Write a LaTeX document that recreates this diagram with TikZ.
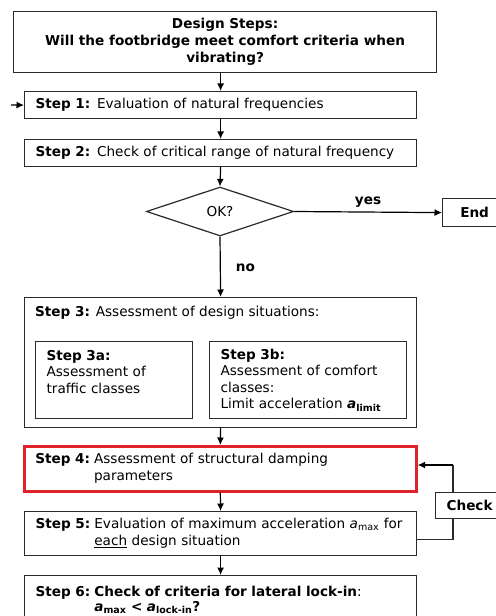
\documentclass[tikz,border=0pt]{standalone}
\usepackage{fontspec}
\setmainfont{DejaVu Sans}
\usetikzlibrary{shapes.geometric,arrows.meta}

\definecolor{framegray}{HTML}{2A2A2A}
\definecolor{alertred}{HTML}{E0222B}

% acceleration symbols
\newcommand{\accreg}[1]{\textit{a}\textsubscript{#1}}
\newcommand{\accbold}[1]{\textbf{\textit{a}\textsubscript{#1}}}
\newcommand{\bodyfont}{\fontsize{13.6bp}{16.5bp}\selectfont}

\begin{document}
\begin{tikzpicture}[x=1bp,y=-1bp,
  font=\bodyfont,
  box/.style={draw=framegray, line width=1.2bp, anchor=north west, fill=white,
    inner xsep=11bp, inner ysep=0pt, align=left},
  redbox/.style={box, draw=alertred, line width=2.6bp},
  decision/.style={diamond, draw=framegray, line width=1.2bp, fill=white,
    inner sep=0pt, minimum width=147bp, minimum height=49bp},
  flow/.style={draw=black, line width=1.2bp, -{Latex[length=7.5bp,width=7bp]}},
  loopline/.style={draw=framegray, line width=1.2bp},
  lbl/.style={font=\bodyfont\bfseries, inner sep=0pt}
]
\useasboundingbox (0,0) rectangle (496,616);
\clip (0,0) rectangle (496,616);

% title
\node[box, align=center, minimum width=423bp, minimum height=61bp, inner xsep=0pt,
  font=\fontsize{13.6bp}{17bp}\selectfont\bfseries] (title) at (13,11)
  {Design Steps:\\Will the footbridge meet comfort criteria when\\vibrating?};

% step boxes
\node[box, text width=370bp, minimum height=27bp] (s1) at (24,91)
  {\textbf{Step 1:} Evaluation of natural frequencies};
\node[box, text width=370bp, minimum height=27bp] (s2) at (24,139)
  {\textbf{Step 2:} Check of critical range of natural frequency};

\node[decision] (ok) at (220,211.5) {OK?};
\node[box, align=center, minimum width=64bp, minimum height=28bp, inner xsep=0pt,
  font=\bodyfont\bfseries] (end) at (442,198) {End};

\node[box, minimum width=392bp, minimum height=130bp] (s3) at (24,297) {};
\node[anchor=west, inner sep=0pt] (s3t) at (35,313)
  {\textbf{Step 3:} Assessment of design situations:};
\node[box, text width=135bp, minimum height=77bp] (s3a) at (35,341)
  {\textbf{Step 3a:}\\Assessment of\\traffic classes\\\mbox{}};
\node[box, text width=175bp, minimum height=77bp] (s3b) at (209,341)
  {\textbf{Step 3b:}\\Assessment of comfort\\classes:\\Limit acceleration \accbold{limit}};

\node[redbox, text width=370bp, minimum height=45bp] (s4) at (23,445)
  {\begin{tabular}{@{}l@{\hspace{0.3em}}l@{}}
    \textbf{Step 4:} & Assessment of structural damping\\
                     & parameters
   \end{tabular}};
\node[box, text width=370bp, minimum height=44bp] (s5) at (24,511)
  {\begin{tabular}{@{}l@{\hspace{0.3em}}l@{}}
    \textbf{Step 5:} & Evaluation of maximum acceleration \accreg{max} for\\
                     & \underline{each} design situation
   \end{tabular}};
\node[box, text width=370bp, minimum height=50bp] (s6) at (24,575)
  {\begin{tabular}{@{}l@{\hspace{0.3em}}l@{}}
    \textbf{Step 6:} & \textbf{Check of criteria for lateral lock-in}:\\[-1bp]
                     & \textbf{\accbold{max} < \accbold{lock-in}?}
   \end{tabular}};

% connectors
\coordinate (entry) at (11,105);
\coordinate (ret) at (453,465);
\draw[flow] (entry) -- (s1.west);
\draw[flow] (s1.north |- title.south) -- (s1.north);
\draw[flow] (s1.south) -- (s2.north);
\draw[flow] (s2.south) -- (ok.north);
\draw[flow] (ok.east) -- node[lbl, above=4bp, pos=0.5] {yes} (end.west);
\draw[flow] (ok.south) -- node[lbl, right=15bp, pos=0.52] {no} (s3.north);
\draw[flow] (s3.south) -- (s4.north);
\draw[flow] (s4.south) -- (s5.north);
\draw[flow] (s5.south) -- (s6.north);

% feedback loop from step 5 back to step 4
\draw[loopline] ([yshift=-6bp]s5.east) -| (ret);
\draw[flow] (ret) -- (s4.east |- ret);
\node[box, align=center, minimum width=68bp, minimum height=26bp, inner xsep=0pt,
  font=\bodyfont\bfseries] (check) at (435,492) {Check};
\end{tikzpicture}
\end{document}
